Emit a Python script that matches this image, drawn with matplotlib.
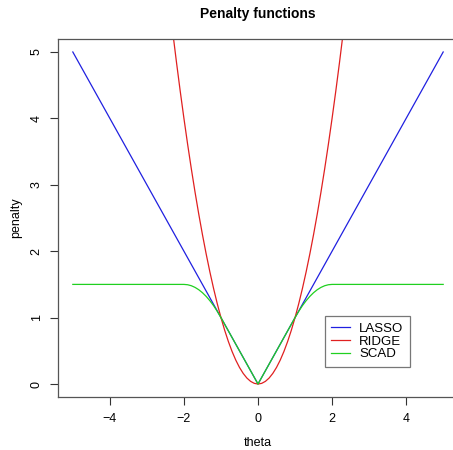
import matplotlib
matplotlib.use('Agg')
import matplotlib.pyplot as plt

# LASSO: V shape
lasso_theta = [-5, 0, 5]
lasso_pen = [5, 0, 5]

# RIDGE:
ridge_theta = [-2.3, -2.2, -2.1, -2.0, -1.9, -1.8, -1.7, -1.6, -1.5, -1.4, -1.3, -1.2,
               -1.1, -1.0, -0.9, -0.8, -0.7, -0.6, -0.5, -0.4, -0.3, -0.2, -0.1, 0.0,
               0.1, 0.2, 0.3, 0.4, 0.5, 0.6, 0.7, 0.8, 0.9, 1.0, 1.1, 1.2, 1.3, 1.4,
               1.5, 1.6, 1.7, 1.8, 1.9, 2.0, 2.1, 2.2, 2.3]
ridge_pen = [5.29, 4.84, 4.41, 4.0, 3.61, 3.24, 2.89, 2.56, 2.25, 1.96, 1.69, 1.44,
             1.21, 1.0, 0.81, 0.64, 0.49, 0.36, 0.25, 0.16, 0.09, 0.04, 0.01, 0.0,
             0.01, 0.04, 0.09, 0.16, 0.25, 0.36, 0.49, 0.64, 0.81, 1.0, 1.21, 1.44, 1.69, 1.96,
             2.25, 2.56, 2.89, 3.24, 3.61, 4.0, 4.41, 4.84, 5.29]

# SCAD: flat tails, curved shoulder, linear centre
scad_theta = [-5.0, -2.0, -1.9, -1.8, -1.7, -1.6, -1.5, -1.4, -1.3, -1.2, -1.1, -1.0,
              0.0, 1.0, 1.1, 1.2, 1.3, 1.4, 1.5, 1.6, 1.7, 1.8, 1.9, 2.0, 5.0]
scad_pen = [1.5, 1.5, 1.495, 1.48, 1.455, 1.42, 1.375, 1.32, 1.255, 1.18, 1.095, 1.0,
            0.0, 1.0, 1.095, 1.18, 1.255, 1.32, 1.375, 1.42, 1.455, 1.48, 1.495, 1.5, 1.5]

plt.rcParams['font.family'] = ['Liberation Sans', 'DejaVu Sans']

fig = plt.figure(figsize=(4.53, 4.5), dpi=100)
W, H = 453, 450
ax = fig.add_axes([58 / W, (H - 397.3) / H, 400 / W, (397.3 - 38.7) / H])

ax.plot(lasso_theta, lasso_pen, color='#2020e0', lw=0.9, label='LASSO')
ax.plot(ridge_theta, ridge_pen, color='#e02020', lw=0.9, label='RIDGE')
ax.plot(scad_theta, scad_pen, color='#20d020', lw=0.9, label='SCAD')

ax.set_xlim(-5.4, 5.4)
ax.set_ylim(-0.2, 5.2)
ax.set_xticks([-4, -2, 0, 2, 4])
ax.set_xticklabels(['\u22124', '\u22122', '0', '2', '4'])
ax.set_yticks([0, 1, 2, 3, 4, 5])
for lab in ax.get_yticklabels():
    lab.set_rotation(90)
    lab.set_va('center')
ax.tick_params(direction='out', length=6, width=0.8, labelsize=9, pad=5, color='#333333')
for s in ax.spines.values():
    s.set_linewidth(0.9)
    s.set_color('#555555')
ax.spines['right'].set_visible(False)

ax.set_xlabel('theta', fontsize=9, labelpad=9)
ax.set_ylabel('penalty', fontsize=9, labelpad=6)
ax.set_title('Penalty functions', fontsize=10, fontweight='bold', pad=15)

leg = ax.legend(loc='lower right', bbox_to_anchor=((410 - 58) / 400, (397.3 - 367) / 358.6),
                fontsize=9.5, frameon=True, fancybox=False, handlelength=1.4,
                borderpad=0.5, labelspacing=0.05, handletextpad=0.7, borderaxespad=0)
leg.get_frame().set_edgecolor('#555555')
leg.get_frame().set_linewidth(0.9)

fig.savefig('out.png', dpi=100)
